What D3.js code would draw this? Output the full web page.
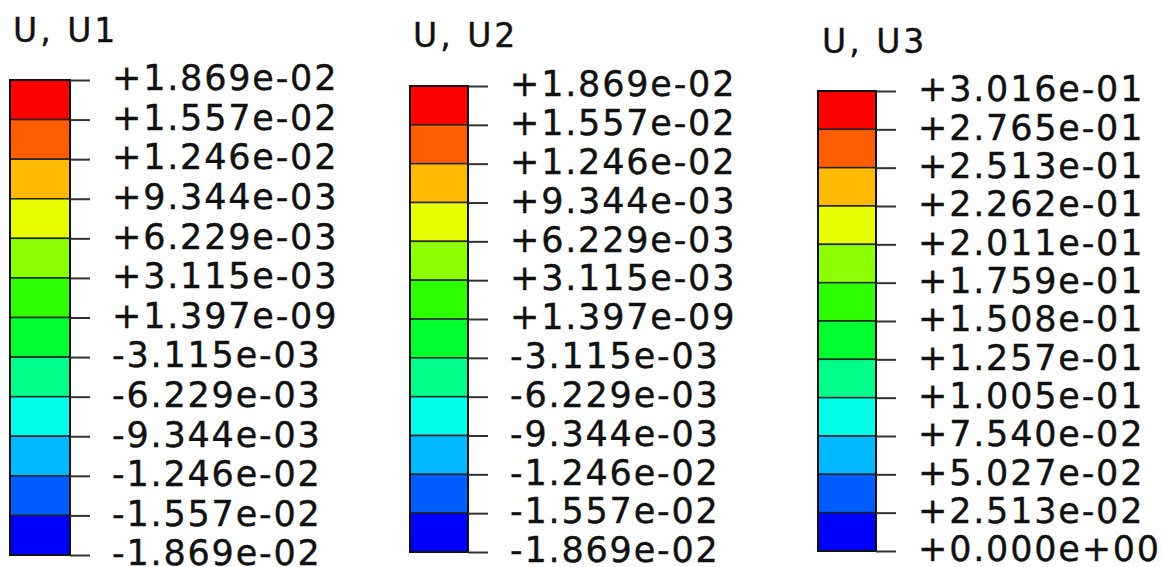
<!DOCTYPE html>
<html>
<head>
<meta charset="utf-8">
<script src="https://cdn.jsdelivr.net/npm/d3@7"></script>
<style>
  body { margin: 0; background: #fff; }
  text { font-family: "DejaVu Sans", Verdana, sans-serif; fill: #111; }
</style>
</head>
<body>
<div id="chart"></div>
<script>
var svgWidth = 1162;
var svgHeight = 567;

// data
var titles = ["U, U1", "U, U2", "U, U3"];
var labelsU1 = ["+1.869e-02", "+1.557e-02", "+1.246e-02", "+9.344e-03", "+6.229e-03", "+3.115e-03",
  "+1.397e-09", "-3.115e-03", "-6.229e-03", "-9.344e-03", "-1.246e-02", "-1.557e-02", "-1.869e-02"];
var labelsU2 = ["+1.869e-02", "+1.557e-02", "+1.246e-02", "+9.344e-03", "+6.229e-03", "+3.115e-03",
  "+1.397e-09", "-3.115e-03", "-6.229e-03", "-9.344e-03", "-1.246e-02", "-1.557e-02", "-1.869e-02"];
var labelsU3 = ["+3.016e-01", "+2.765e-01", "+2.513e-01", "+2.262e-01", "+2.011e-01", "+1.759e-01",
  "+1.508e-01", "+1.257e-01", "+1.005e-01", "+7.540e-02", "+5.027e-02", "+2.513e-02", "+0.000e+00"];
var bandColors = ["#ff0000", "#ff5d00", "#ffb900", "#e8ff00", "#8cff00", "#2eff00",
  "#00ff2e", "#00ff8b", "#00ffe8", "#00b9ff", "#005dff", "#0000ff"];

// layout for each legend
var layout = [
  { x: 10,  w: 60, top: 80, bottom: 555, tx: 13,  ty: 42 },
  { x: 410, w: 58, top: 86, bottom: 552, tx: 413, ty: 47 },
  { x: 818, w: 58, top: 91, bottom: 551, tx: 822, ty: 53 }
];
var allLabels = [labelsU1, labelsU2, labelsU3];

var svg = d3.select("#chart")
  .append("svg")
  .attr("width", svgWidth)
  .attr("height", svgHeight);

layout.forEach(function(L, k) {
  var labels = allLabels[k];
  var g = svg.append("g");

  var yScale = d3.scaleLinear()
    .domain([0, labels.length - 1])
    .range([L.top, L.bottom]);

  // title
  g.append("text")
    .attr("x", L.tx)
    .attr("y", L.ty)
    .style("font-size", "33px")
    .style("letter-spacing", "3px")
    .attr("stroke", "#111")
    .attr("stroke-width", 0.4)
    .text(titles[k]);

  // colour bands
  g.selectAll("rect.band")
    .data(bandColors)
    .enter()
    .append("rect")
    .attr("class", "band")
    .attr("x", L.x)
    .attr("y", function(d, i) { return yScale(i); })
    .attr("width", L.w)
    .attr("height", function(d, i) { return yScale(i + 1) - yScale(i); })
    .attr("fill", function(d) { return d; })
    .attr("stroke", "#222")
    .attr("stroke-width", 1.5);

  // outline
  g.append("rect")
    .attr("x", L.x)
    .attr("y", L.top)
    .attr("width", L.w)
    .attr("height", L.bottom - L.top)
    .attr("fill", "none")
    .attr("stroke", "#111")
    .attr("stroke-width", 2);

  // ticks and labels
  var axis = d3.axisRight(yScale)
    .tickValues(d3.range(labels.length))
    .tickFormat(function(i) { return labels[i]; })
    .tickSize(20)
    .tickPadding(22);

  var ax = g.append("g")
    .attr("transform", "translate(" + (L.x + L.w) + ",0)")
    .call(axis);
  ax.select(".domain").remove();
  ax.selectAll(".tick line")
    .attr("stroke", "#333")
    .attr("stroke-width", 2);
  ax.selectAll(".tick text")
    .attr("fill", "#111")
    .attr("stroke", "#111")
    .attr("stroke-width", 0.4)
    .attr("dy", "0.28em")
    .style("font-size", "35px")
    .style("letter-spacing", "1.8px")
    .attr("font-family", null);
});
</script>
</body>
</html>
